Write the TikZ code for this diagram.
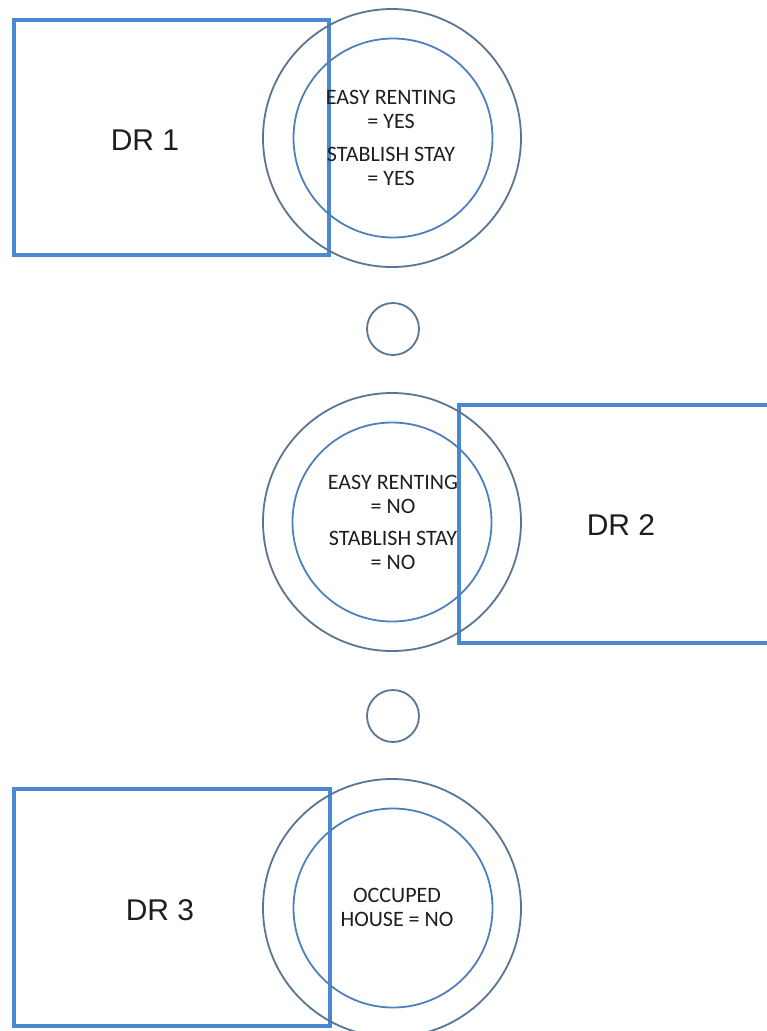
\documentclass[tikz,border=0pt]{standalone}
\usepackage{fontspec}
\setmainfont{Carlito}
\newfontfamily\drfont{Liberation Sans}
\definecolor{mRectBlue}{HTML}{4A89D2}
\definecolor{mRingGrey}{HTML}{587694}
\definecolor{mRingBlue}{HTML}{4F80BA}
\definecolor{mText}{HTML}{1E1E1E}

\begin{document}
\begin{tikzpicture}[x=1pt, y=-1pt,
  drbox/.style={draw=mRectBlue, line width=4.5pt, inner sep=0pt},
  ring/.style={circle, draw=mRingGrey, line width=1.8pt, minimum size=258pt, inner sep=0pt},
  core/.style={circle, draw=mRingBlue, line width=1.8pt, minimum size=199pt, inner sep=0pt},
  dot/.style={circle, draw=mRingGrey, line width=1.8pt, minimum size=52pt, inner sep=0pt},
  drlabel/.style={text=mText, font=\drfont\fontsize{30}{33}\selectfont, inner sep=0pt},
  cond/.style={text=mText, font=\fontsize{22}{24}\selectfont, align=center, inner sep=0pt}]
\useasboundingbox (0,0) rectangle (767,1031);
\clip (0,0) rectangle (767,1031);
% first decision
\node[drbox, minimum width=315pt, minimum height=235pt] (box1) at (171.5,137.5) {};
\node[ring] (ring1) at (392,138) {};
\node[core] (core1) at (393,138) {};
\node[drlabel] (dr1) at (145,140) {DR 1};
\node[cond] (rent1) at (391,109) {EASY RENTING\\= YES};
\node[cond] (stay1) at (391,166.5) {STABLISH STAY\\= YES};
\node[dot] (dotA) at (393,329) {};
% second decision
\node[drbox, minimum width=331pt, minimum height=238pt] (box2) at (624.5,524) {};
\node[ring] (ring2) at (392,522) {};
\node[core] (core2) at (392,522) {};
\node[drlabel] (dr2) at (621,525) {DR 2};
\node[cond] (rent2) at (393,494) {EASY RENTING\\= NO};
\node[cond] (stay2) at (393,550.5) {STABLISH STAY\\= NO};
\node[dot] (dotB) at (393,716) {};
% third decision
\node[drbox, minimum width=316pt, minimum height=237pt] (box3) at (172,907.5) {};
\node[ring] (ring3) at (392,908) {};
\node[core] (core3) at (393,908) {};
\node[drlabel] (dr3) at (160,910) {DR 3};
\node[cond] (house3) at (397,907.5) {OCCUPED\\HOUSE = NO};
\end{tikzpicture}
\end{document}
